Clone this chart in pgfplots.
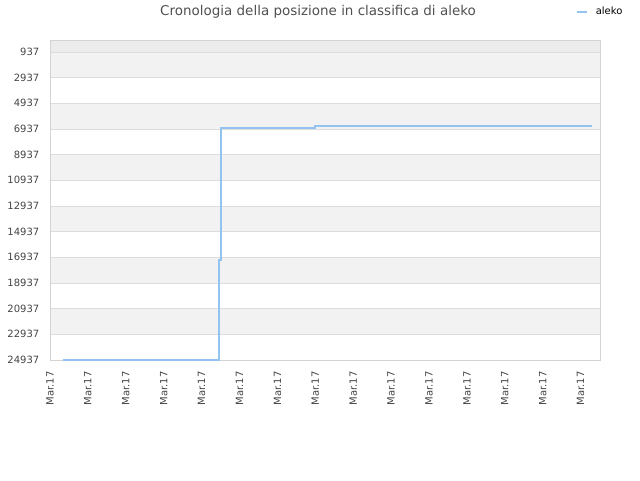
\documentclass[border=0pt]{standalone}
\usepackage{fontspec}
\setmainfont{DejaVu Sans}
\usepackage{pgfplots}
\pgfplotsset{compat=1.18}
\definecolor{bandgray}{HTML}{F2F2F2}
\definecolor{topgray}{HTML}{ECECEC}
\definecolor{gridgray}{HTML}{DDDDDD}
\definecolor{framegray}{HTML}{D3D3D3}
\definecolor{lineblue}{HTML}{95C3F0}
\definecolor{txtgray}{HTML}{444444}
\definecolor{titlegray}{HTML}{505050}

\begin{document}
\begin{tikzpicture}
\path (0,0) rectangle (480pt,360pt);
\begin{axis}[
  set layers,
  at={(37.5pt,90pt)}, anchor=south west,
  scale only axis,
  width=412.5pt, height=240pt,
  xmin=0, xmax=14.51,
  ymin=1, ymax=24937,
  y dir=reverse,
  xtick={0,1,...,14},
  xticklabel={Mar.17},
  ytick={937,2937,4937,6937,8937,10937,12937,14937,16937,18937,20937,22937,24937},
  scaled y ticks=false,
  yticklabel style={/pgf/number format/1000 sep={}, /pgf/number format/assume math mode=true},
  tick label style={font=\fontsize{7.5}{9}\selectfont, text=txtgray},
  x tick label style={rotate=90, anchor=east},
  xticklabel shift=5pt,
  yticklabel shift=4.5pt,
  major tick length=0pt,
  ymajorgrids, grid style={gridgray, line width=0.75pt},
  axis line style={framegray, line width=0.75pt},
  legend style={at={(0.9564,1.0875)}, anchor=west, draw=none, fill=none,
    font=\fontsize{7.5}{9}\selectfont, inner sep=0pt,
    nodes={inner xsep=6pt}},
  legend image code/.code={\draw[#1, line width=1.1pt] (0pt,0pt) -- (7.5pt,0pt);},
]
\begin{pgfonlayer}{axis background}
\fill[topgray] (axis cs:0,1) rectangle (axis cs:14.51,937);
\fill[bandgray] (axis cs:0,937) rectangle (axis cs:14.51,2937);
\fill[bandgray] (axis cs:0,4937) rectangle (axis cs:14.51,6937);
\fill[bandgray] (axis cs:0,8937) rectangle (axis cs:14.51,10937);
\fill[bandgray] (axis cs:0,12937) rectangle (axis cs:14.51,14937);
\fill[bandgray] (axis cs:0,16937) rectangle (axis cs:14.51,18937);
\fill[bandgray] (axis cs:0,20937) rectangle (axis cs:14.51,22937);
\end{pgfonlayer}
\addplot[lineblue, line width=1.5pt] coordinates {
  (0.34,24937) (4.47,24937) (4.47,17137) (4.50,17137) (4.50,6865)
  (6.99,6865) (6.99,6740) (11.85,6740) (11.85,6685) (14.30,6685)
};
\legend{aleko}
\end{axis}
\node[text=titlegray, font=\fontsize{10.1}{12}\selectfont] at (238.5pt,351pt) {Cronologia della posizione in classifica di aleko};
\end{tikzpicture}
\end{document}
